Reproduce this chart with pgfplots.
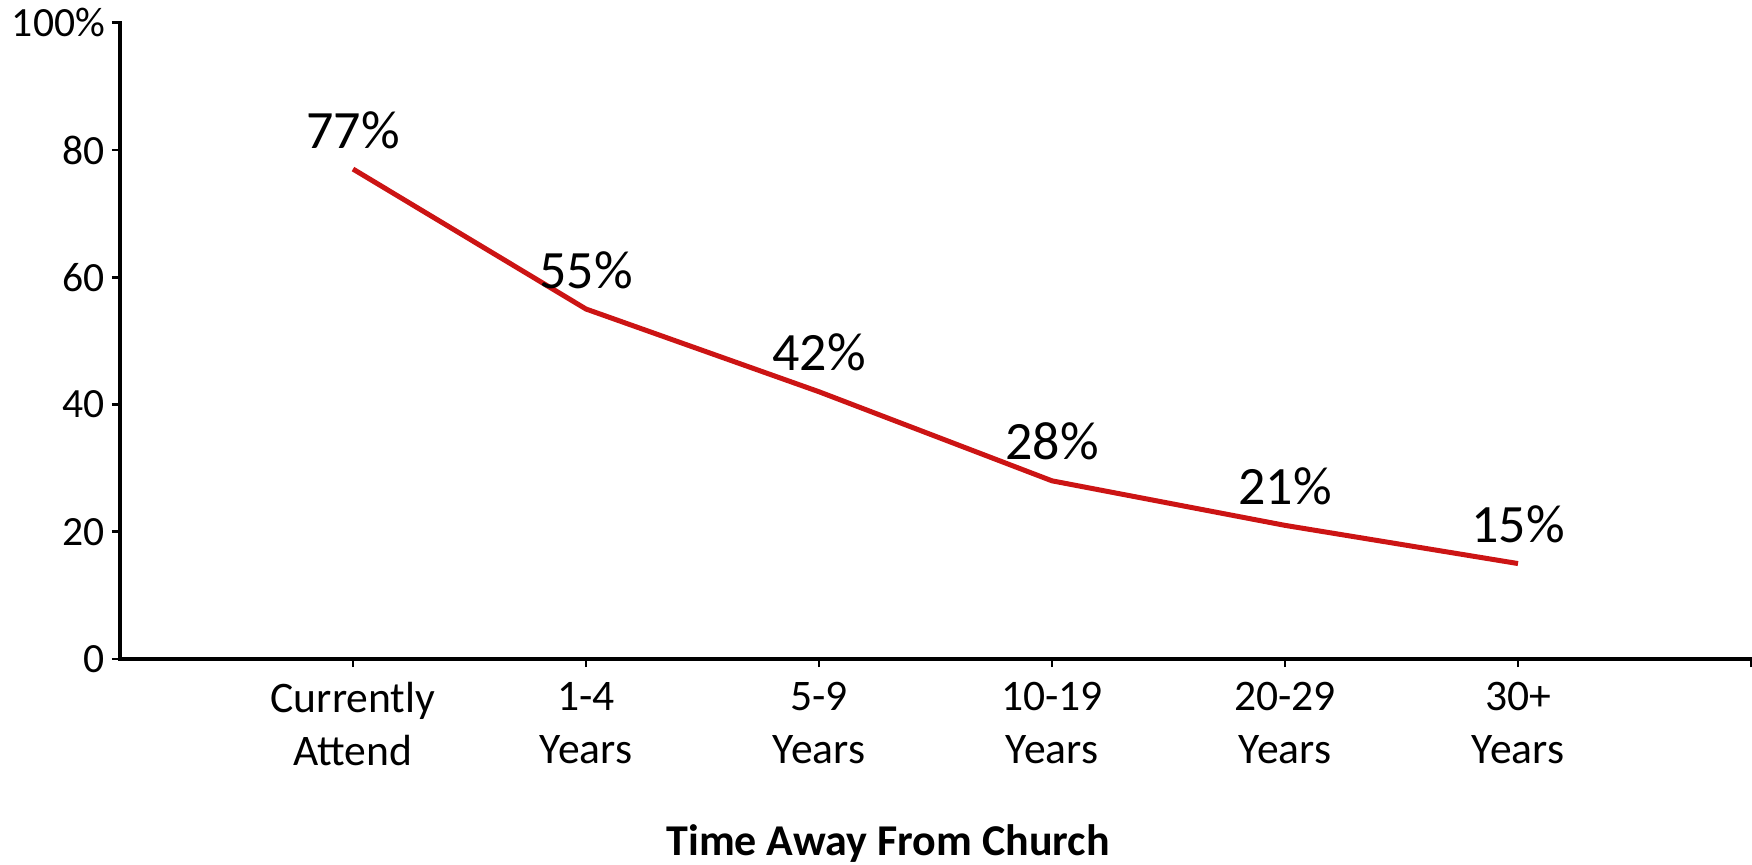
\documentclass[border=0pt]{standalone}
\usepackage{pgfplots}
\pgfplotsset{compat=1.18}
\usepackage{fontspec}
\setmainfont{Carlito}
\definecolor{linered}{RGB}{204,20,20}
\begin{document}
\begin{tikzpicture}
\begin{axis}[
 name=ax,
 scale only axis, width=815.5pt, height=318.15pt,
 xmin=-1, xmax=6, ymin=0, ymax=100,
 axis lines=left, axis line style={-, line width=1.6pt, line cap=rect},
 xtick={0,...,6},
 xticklabels={{Currently\\Attend},{1-4\\Years},{5-9\\Years},{10-19\\Years},{20-29\\Years},{30+\\Years},{}},
 ytick={0,20,...,100}, yticklabels={0,20,40,60,80,100\%},
 tick align=outside, major tick length=4pt, tick style={line width=1.4pt, black},
 xticklabel style={align=center, font=\fontsize{21.8}{26.5}\selectfont, yshift=-4pt},
 yticklabel style={font=\fontsize{20.8}{24}\selectfont},
 xlabel={\textbf{Time Away From Church}},
 xlabel style={at={(axis description cs:0.471,0)}, anchor=base, yshift=-98pt, font=\fontsize{22}{26}\selectfont},
 clip=false,
 nodes near coords, point meta=explicit symbolic,
 nodes near coords style={anchor=base, yshift=10.5pt, font=\fontsize{27}{31}\selectfont, text=black},
]
\addplot[linered, line width=2.5pt, mark=none] coordinates {(0,77)[77\%] (1,55)[55\%] (2,42)[42\%] (3,28)[28\%] (4,21)[21\%] (5,15)[15\%]};
\end{axis}
\pgfresetboundingbox
\path[use as bounding box] ([xshift=-60pt,yshift=-103pt]ax.south west) rectangle ([xshift=0.5pt,yshift=11.35pt]ax.north east);
\end{tikzpicture}
\end{document}
